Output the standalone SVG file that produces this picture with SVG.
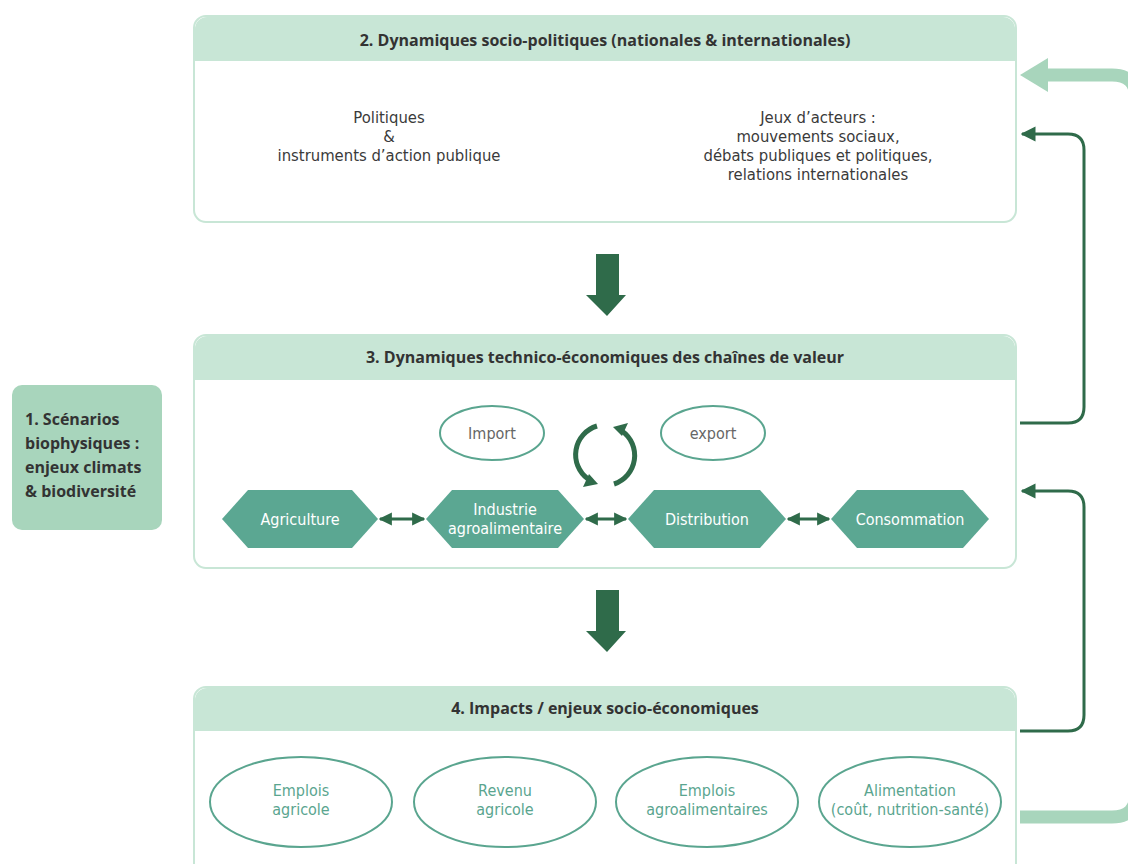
<svg xmlns="http://www.w3.org/2000/svg" width="1128" height="864" viewBox="0 0 1128 864">
<defs>
<style>
.box{fill:#fff;stroke:#c8e6d6;stroke-width:2}
.hdr{fill:#c8e6d6}
.title{font-family:"Open Sans","Noto Sans",sans-serif;font-weight:bold;font-size:16px;fill:#333;text-anchor:middle}
.b1{font-family:"Open Sans","Noto Sans",sans-serif;font-weight:bold;font-size:16px;fill:#333}
.cond{font-family:"Liberation Sans Narrow","DejaVu Sans Condensed",sans-serif;font-size:16.5px;fill:#3a3a3a;text-anchor:middle}
.hex{fill:#5ba792}
.hext{font-family:"Liberation Sans Narrow","DejaVu Sans Condensed",sans-serif;font-size:16px;fill:#fff;text-anchor:middle}
.ell{fill:#fff;stroke:#5aa58f;stroke-width:2}
.ellg{font-family:"Liberation Sans Narrow","DejaVu Sans Condensed",sans-serif;font-size:16px;fill:#5aa58f;text-anchor:middle}
.ellt{font-family:"Liberation Sans Narrow","DejaVu Sans Condensed",sans-serif;font-size:16px;fill:#666;text-anchor:middle}
.fb{fill:none;stroke:#2f6b4a;stroke-width:3}
.dbl{stroke:#2f6b4a;stroke-width:3}
.big{fill:#2f6b4a}
</style>
<marker id="ah" viewBox="0 0 10 10" refX="9" refY="5" markerWidth="5" markerHeight="5.4" markerUnits="strokeWidth" orient="auto-start-reverse">
<path d="M0,0 L10,5 L0,10 z" fill="#2f6b4a"/>
</marker>
<marker id="ah2" viewBox="0 0 10 10" refX="9" refY="5" markerWidth="4.4" markerHeight="5.2" markerUnits="strokeWidth" orient="auto-start-reverse">
<path d="M0,0 L10,5 L0,10 z" fill="#2f6b4a"/>
</marker>
</defs>
<rect width="1128" height="864" fill="#fff"/>

<g id="node1">
<rect x="12" y="385" width="150" height="145" rx="10" fill="#a8d5bc"/>
<text class="b1" x="25" y="425">1. Scénarios</text>
<text class="b1" x="25" y="449">biophysiques :</text>
<text class="b1" x="25" y="473">enjeux climats</text>
<text class="b1" x="25" y="497">&amp; biodiversité</text>
</g>

<g id="node2">
<rect class="box" x="194" y="16" width="822" height="206" rx="12"/>
<path class="hdr" d="M195,61 V29 A12,12 0 0 1 207,17 H1003 A12,12 0 0 1 1015,29 V61 Z"/>
<text class="title" x="605" y="46">2. Dynamiques socio-politiques (nationales &amp; internationales)</text>
<text class="cond" x="389" y="123">Politiques</text>
<text class="cond" x="389" y="142">&amp;</text>
<text class="cond" x="389" y="161">instruments d’action publique</text>
<text class="cond" x="818" y="123">Jeux d’acteurs :</text>
<text class="cond" x="818" y="142">mouvements sociaux,</text>
<text class="cond" x="818" y="161">débats publiques et politiques,</text>
<text class="cond" x="818" y="180">relations internationales</text>
</g>

<g id="node3">
<rect class="box" x="194" y="335" width="822" height="233" rx="12"/>
<path class="hdr" d="M195,380 V348 A12,12 0 0 1 207,336 H1003 A12,12 0 0 1 1015,348 V380 Z"/>
<text class="title" x="605" y="363">3. Dynamiques technico-économiques des chaînes de valeur</text>
</g>

<g id="import">
<ellipse class="ell" cx="492" cy="433" rx="52" ry="27"/>
<text class="ellt" x="492" y="439">Import</text>
</g>
<g id="export">
<ellipse class="ell" cx="713" cy="433" rx="52" ry="27"/>
<text class="ellt" x="713" y="439">export</text>
</g>

<g id="cycle">
<path d="M597,426 A30,30 0 0 0 588,479" fill="none" stroke="#2f6b4a" stroke-width="5"/>
<polygon points="598,484 583,487 589,474" fill="#2f6b4a"/>
<path d="M614,484 A30,30 0 0 0 622,431" fill="none" stroke="#2f6b4a" stroke-width="5"/>
<polygon points="613,427 628,423 622,436" fill="#2f6b4a"/>
</g>

<g id="agriculture">
<polygon class="hex" points="222,519 248,490 352,490 378,519 352,548 248,548"/>
<text class="hext" x="300" y="525">Agriculture</text>
</g>
<g id="industrie">
<polygon class="hex" points="426,519 452,490 558,490 584,519 558,548 452,548"/>
<text class="hext" x="505" y="515">Industrie</text>
<text class="hext" x="505" y="534">agroalimentaire</text>
</g>
<g id="distribution">
<polygon class="hex" points="628,519 654,490 760,490 786,519 760,548 654,548"/>
<text class="hext" x="707" y="525">Distribution</text>
</g>
<g id="consommation">
<polygon class="hex" points="831,519 857,490 963,490 989,519 963,548 857,548"/>
<text class="hext" x="910" y="525">Consommation</text>
</g>

<g id="node4">
<rect class="box" x="194" y="687" width="822" height="200" rx="12"/>
<path class="hdr" d="M195,731 V700 A12,12 0 0 1 207,688 H1003 A12,12 0 0 1 1015,700 V731 Z"/>
<text class="title" x="605" y="714">4. Impacts / enjeux socio-économiques</text>
</g>
<g id="emplois-agricole">
<ellipse class="ell" cx="301" cy="802" rx="91" ry="45"/>
<text class="ellg" x="301" y="796">Emplois</text>
<text class="ellg" x="301" y="815">agricole</text>
</g>
<g id="revenu-agricole">
<ellipse class="ell" cx="505" cy="802" rx="91" ry="45"/>
<text class="ellg" x="505" y="796">Revenu</text>
<text class="ellg" x="505" y="815">agricole</text>
</g>
<g id="emplois-agro">
<ellipse class="ell" cx="707" cy="802" rx="91" ry="45"/>
<text class="ellg" x="707" y="796">Emplois</text>
<text class="ellg" x="707" y="815">agroalimentaires</text>
</g>
<g id="alimentation">
<ellipse class="ell" cx="910" cy="802" rx="91" ry="45"/>
<text class="ellg" x="910" y="796">Alimentation</text>
<text class="ellg" x="910" y="815">(coût, nutrition-santé)</text>
</g>

<g id="connectors">
<polygon class="big" points="596,254 619,254 619,295 626,295 607,316 586,295 596,295"/>
<polygon class="big" points="596,590 619,590 619,631 626,631 607,652 586,631 596,631"/>
<line class="dbl" x1="380" y1="519" x2="424" y2="519" marker-start="url(#ah2)" marker-end="url(#ah2)"/>
<line class="dbl" x1="586" y1="519" x2="626" y2="519" marker-start="url(#ah2)" marker-end="url(#ah2)"/>
<line class="dbl" x1="788" y1="519" x2="829" y2="519" marker-start="url(#ah2)" marker-end="url(#ah2)"/>
<path class="fb" d="M1020,423 H1068 Q1084,423 1084,407 V150 Q1084,134 1068,134 H1022" marker-end="url(#ah)"/>
<path class="fb" d="M1020,731 H1068 Q1084,731 1084,715 V507 Q1084,491 1068,491 H1022" marker-end="url(#ah)"/>
<path d="M1020,817 H1112 Q1136,817 1136,793 V99 Q1136,75 1112,75 H1046" fill="none" stroke="#a8d5bc" stroke-width="13"/>
<polygon points="1020,75 1048,58 1048,92" fill="#a8d5bc"/>
</g>
</svg>
